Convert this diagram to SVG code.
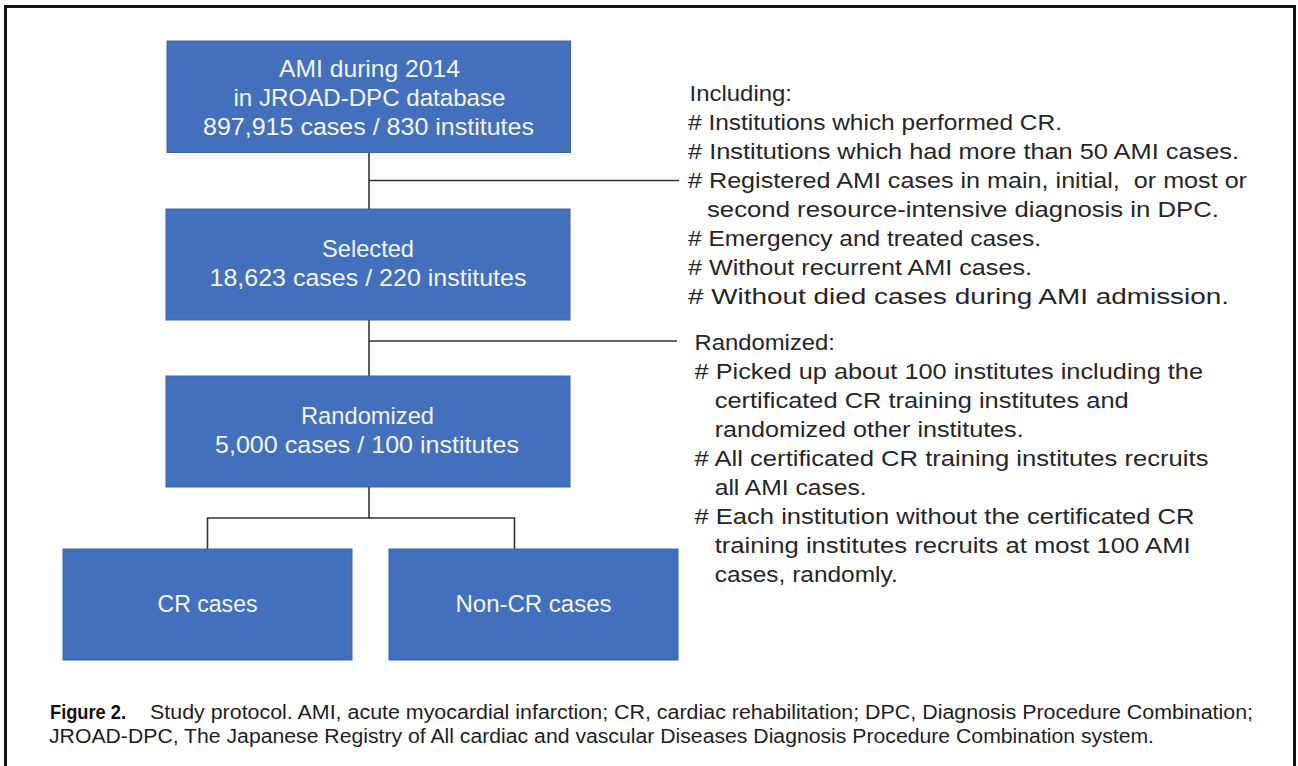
<svg xmlns="http://www.w3.org/2000/svg" width="1298" height="766" viewBox="0 0 1298 766">
  <style>
    .box { fill: #4370BD; stroke: #3A64AE; stroke-width: 1; }
    .bt { font-family: "Liberation Sans", Arial, sans-serif; font-size: 24.5px; fill: #F4F6FA; text-anchor: middle; }
    .rt { font-family: "Liberation Sans", Arial, sans-serif; font-size: 22px; fill: #262626; }
    .conn { stroke: #333333; stroke-width: 1.6; fill: none; }
    .cap { font-family: "Liberation Sans", Arial, sans-serif; font-size: 19.5px; fill: #1e1e1e; }
    .capb { font-family: "Liberation Sans Narrow", "Liberation Sans", Arial, sans-serif; font-size: 20px; font-weight: bold; fill: #111111; }
  </style>
  <rect x="0" y="0" width="1298" height="766" fill="#FFFFFF"/>
  <path d="M5.5,766 V6.5 H1294.5 V766" fill="none" stroke="#111111" stroke-width="3"/>

  <g id="connectors">
    <path class="conn" d="M369,152.5 V209"/>
    <path class="conn" d="M369,180.5 H679"/>
    <path class="conn" d="M369,320 V376"/>
    <path class="conn" d="M369,341 H677"/>
    <path class="conn" d="M369,487 V518 M207.5,549 V518 H514.5 V549"/>
  </g>

  <g id="node-ami">
    <rect class="box" x="167" y="41" width="403.5" height="111.5"/>
    <text class="bt" x="369.5" y="77" textLength="181" lengthAdjust="spacingAndGlyphs">AMI during 2014</text>
    <text class="bt" x="369.5" y="106" textLength="272" lengthAdjust="spacingAndGlyphs">in JROAD-DPC database</text>
    <text class="bt" x="368.5" y="135" textLength="331" lengthAdjust="spacingAndGlyphs">897,915 cases / 830 institutes</text>
  </g>

  <g id="node-selected">
    <rect class="box" x="166" y="209" width="404" height="111"/>
    <text class="bt" x="368" y="257" textLength="92" lengthAdjust="spacingAndGlyphs">Selected</text>
    <text class="bt" x="368" y="286" textLength="317" lengthAdjust="spacingAndGlyphs">18,623 cases / 220 institutes</text>
  </g>

  <g id="node-randomized">
    <rect class="box" x="166" y="376" width="404" height="111"/>
    <text class="bt" x="367.5" y="424" textLength="133" lengthAdjust="spacingAndGlyphs">Randomized</text>
    <text class="bt" x="367" y="453" textLength="304" lengthAdjust="spacingAndGlyphs">5,000 cases / 100 institutes</text>
  </g>

  <g id="node-cr">
    <rect class="box" x="63" y="549" width="289" height="111"/>
    <text class="bt" x="207.5" y="612" textLength="100" lengthAdjust="spacingAndGlyphs">CR cases</text>
  </g>

  <g id="node-noncr">
    <rect class="box" x="389" y="549" width="289" height="111"/>
    <text class="bt" x="533.5" y="612" textLength="156" lengthAdjust="spacingAndGlyphs">Non-CR cases</text>
  </g>

  <g id="note-including">
    <text class="rt" x="689.5" y="100.5" textLength="102.5" lengthAdjust="spacingAndGlyphs">Including:</text>
    <text class="rt" x="688" y="129.5" textLength="374" lengthAdjust="spacingAndGlyphs"># Institutions which performed CR.</text>
    <text class="rt" x="688" y="158.5" textLength="551" lengthAdjust="spacingAndGlyphs"># Institutions which had more than 50 AMI cases.</text>
    <text class="rt" x="688" y="187.5" textLength="559" lengthAdjust="spacingAndGlyphs" xml:space="preserve"># Registered AMI cases in main, initial,  or most or</text>
    <text class="rt" x="707" y="216.5" textLength="512" lengthAdjust="spacingAndGlyphs">second resource-intensive diagnosis in DPC.</text>
    <text class="rt" x="688" y="245.5" textLength="353" lengthAdjust="spacingAndGlyphs"># Emergency and treated cases.</text>
    <text class="rt" x="688" y="274.5" textLength="344" lengthAdjust="spacingAndGlyphs"># Without recurrent AMI cases.</text>
    <text class="rt" x="688" y="303.5" textLength="541" lengthAdjust="spacingAndGlyphs"># Without died cases during AMI admission.</text>
  </g>

  <g id="note-randomized">
    <text class="rt" x="694.5" y="349.5" textLength="140.5" lengthAdjust="spacingAndGlyphs">Randomized:</text>
    <text class="rt" x="694.5" y="378.5" textLength="508.5" lengthAdjust="spacingAndGlyphs"># Picked up about 100 institutes including the</text>
    <text class="rt" x="714.7" y="407.5" textLength="414" lengthAdjust="spacingAndGlyphs">certificated CR training institutes and</text>
    <text class="rt" x="714.7" y="436.5" textLength="309" lengthAdjust="spacingAndGlyphs">randomized other institutes.</text>
    <text class="rt" x="694.5" y="465.5" textLength="514" lengthAdjust="spacingAndGlyphs"># All certificated CR training institutes recruits</text>
    <text class="rt" x="714.7" y="494.5" textLength="152" lengthAdjust="spacingAndGlyphs">all AMI cases.</text>
    <text class="rt" x="694.5" y="523.5" textLength="500" lengthAdjust="spacingAndGlyphs"># Each institution without the certificated CR</text>
    <text class="rt" x="714.7" y="552.5" textLength="476" lengthAdjust="spacingAndGlyphs">training institutes recruits at most 100 AMI</text>
    <text class="rt" x="714.7" y="581.5" textLength="183" lengthAdjust="spacingAndGlyphs">cases, randomly.</text>
  </g>

  <g id="caption">
    <text class="capb" x="50" y="718.5" textLength="76" lengthAdjust="spacingAndGlyphs">Figure 2.</text>
    <text class="cap" x="150" y="718.5" textLength="1103" lengthAdjust="spacingAndGlyphs">Study protocol. AMI, acute myocardial infarction; CR, cardiac rehabilitation; DPC, Diagnosis Procedure Combination;</text>
    <text class="cap" x="49" y="742.5" textLength="1105" lengthAdjust="spacingAndGlyphs">JROAD-DPC, The Japanese Registry of All cardiac and vascular Diseases Diagnosis Procedure Combination system.</text>
  </g>
</svg>
